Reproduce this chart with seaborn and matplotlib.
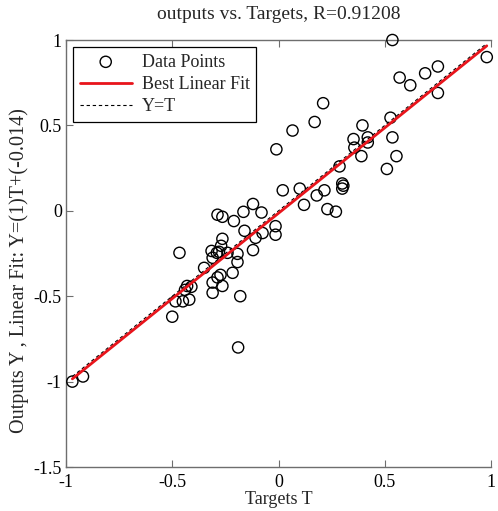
import numpy as np
import pandas as pd
import matplotlib
matplotlib.use("Agg")
import matplotlib.pyplot as plt
import seaborn as sns

# Network targets and outputs
targets = [
    0.536, 0.98, 0.75, 0.69, 0.57, 0.62, 0.75, 0.21, 0.17, 0.066,
    -0.01, 0.527, 0.395, 0.353, 0.42, 0.42, 0.536, 0.357, 0.39, 0.555,
    0.287, 0.51, 0.30, 0.305, 0.30, 0.02, 0.10, 0.216, 0.18, 0.12,
    0.23, 0.27, -0.014, -0.014,
    -0.12, -0.08, -0.165, -0.21, -0.287, -0.264, -0.16, -0.075, -0.108, -0.12,
    -0.264, -0.27, -0.466, -0.315, -0.29, -0.28, -0.24, -0.193, -0.193, -0.31,
    -0.35, -0.216, -0.273, -0.287, -0.31, -0.264, -0.43, -0.41, -0.44, -0.31,
    -0.18, -0.485, -0.45, -0.42, -0.5, -0.19, -0.97, -0.92,
]
outputs = [
    1.00, 0.90, 0.845, 0.805, 0.78, 0.735, 0.69, 0.63, 0.52, 0.47,
    0.36, 0.545, 0.50, 0.42, 0.43, 0.40, 0.43, 0.37, 0.32, 0.32,
    0.26, 0.245, 0.16, 0.147, 0.13, 0.12, 0.13, 0.12, 0.09, 0.035,
    0.01, -0.005, -0.09, -0.14,
    0.04, -0.01, -0.006, -0.06, -0.023, -0.035, -0.117, -0.13, -0.158, -0.23,
    -0.164, -0.205, -0.246, -0.235, -0.246, -0.24, -0.246, -0.252, -0.30, -0.275,
    -0.334, -0.363, -0.375, -0.39, -0.42, -0.44, -0.44, -0.445, -0.463, -0.48,
    -0.50, -0.53, -0.53, -0.52, -0.62, -0.80, -1.0, -0.97,
]

# Regression result
slope = 1.0
intercept = -0.014
r_value = "0.91208"

sns.set_style("ticks")
plt.rcParams["font.family"] = ["Liberation Serif", "DejaVu Serif"]

df = pd.DataFrame({"T": targets, "Y": outputs})
t_line = np.array([min(targets), max(targets)])
fit_df = pd.DataFrame({"T": t_line, "Y": slope * t_line + intercept})
ideal_df = pd.DataFrame({"T": t_line, "Y": t_line})

fig = plt.figure(figsize=(4.98, 5.11), dpi=100)
ax = fig.add_axes([0.1325, 0.0861, 0.8535, 0.8356])

sns.scatterplot(data=df, x="T", y="Y", ax=ax, marker="o", s=65,
                facecolor="none", edgecolor="black", linewidth=1.0,
                label="Data Points", zorder=3, clip_on=False)
sns.lineplot(data=fit_df, x="T", y="Y", ax=ax, color="#e8141b", linewidth=2.0,
             label="Best Linear Fit", zorder=4)
sns.lineplot(data=ideal_df, x="T", y="Y", ax=ax, color="black", linewidth=0.8,
             linestyle=(0, (3, 2.5)), label="Y=T", zorder=2)

ax.set_xlim(-1, 1)
ax.set_ylim(-1.5, 1)
ax.set_xticks([-1, -0.5, 0, 0.5, 1])
ax.set_xticklabels(["-1", "-0.5", "0", "0.5", "1"])
ax.set_yticks([-1.5, -1, -0.5, 0, 0.5, 1])
ax.set_yticklabels(["-1.5", "-1", "-0.5", "0", "0.5", "1"])

for side in ["left", "bottom", "top"]:
    ax.spines[side].set_visible(True)
    ax.spines[side].set_color("#6e6e6e")
    ax.spines[side].set_linewidth(1.0)
ax.spines["right"].set_visible(False)
ax.tick_params(axis="both", direction="in", length=5, width=0.8,
               color="#6e6e6e", labelsize=13, labelcolor="black", pad=3)
ax.tick_params(axis="x", top=True, pad=5)

ax.set_title(f"outputs vs. Targets, R={r_value}", fontsize=14, pad=15)
ax.set_xlabel("Targets T", fontsize=13, labelpad=0)
ax.set_ylabel(f"Outputs Y , Linear Fit: Y=({slope:g})T+({intercept:g})",
              fontsize=14.5)
ax.yaxis.set_label_coords(-0.088, 0.46)

leg = ax.legend(loc="upper left", fontsize=13, frameon=True, fancybox=False,
                edgecolor="black", framealpha=1, borderpad=0.35,
                labelspacing=0.3, handlelength=2.9, handletextpad=0.55,
                borderaxespad=0.4)
leg.get_frame().set_linewidth(0.9)

fig.savefig("out.png", dpi=100)
